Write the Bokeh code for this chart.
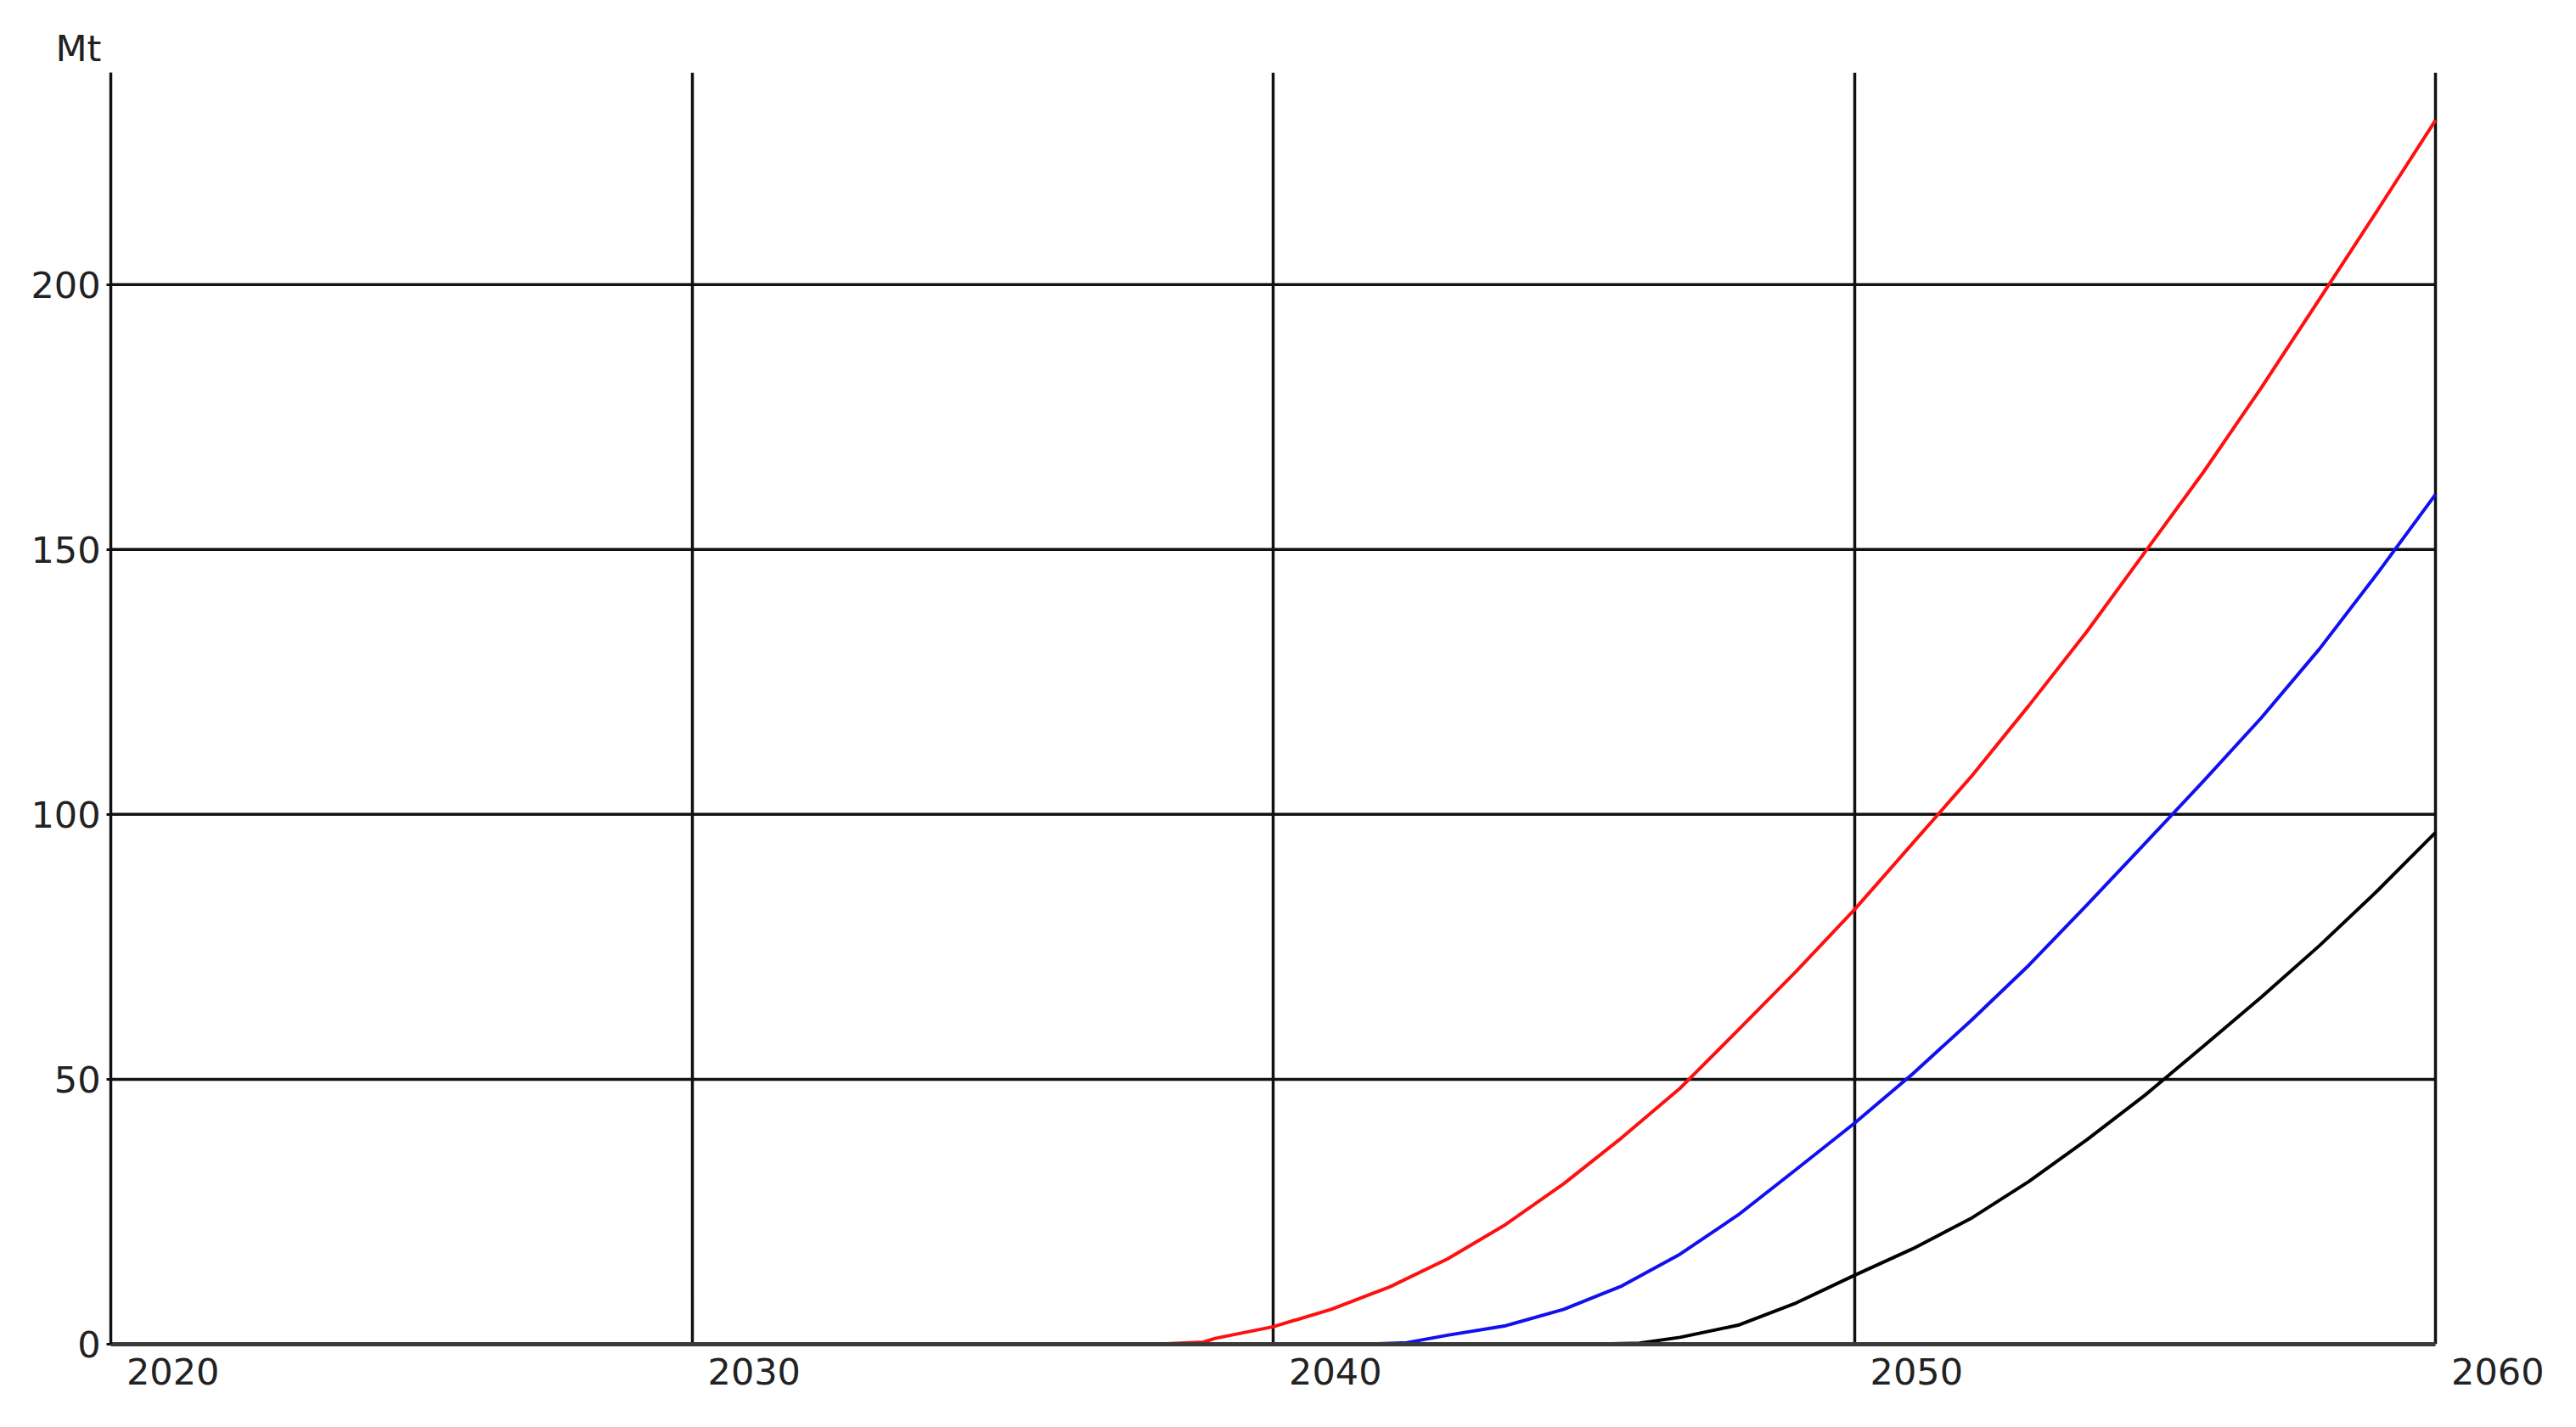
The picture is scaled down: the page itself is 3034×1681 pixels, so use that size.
from bokeh.plotting import figure
from bokeh.models import Range1d, FixedTicker, LinearAxis, Grid, Title
from bokeh.embed import file_html
from bokeh.resources import INLINE

# ---------------- data ----------------
x_ticks = [2020, 2030, 2040, 2050, 2060]
x_tick_labels = ["2020", "2030", "2040", "2050", "2060"]
y_ticks = [0, 50, 100, 150, 200]
y_unit = "Mt"

red_years = [2038.0, 2038.8, 2039, 2040, 2041, 2042, 2043, 2044, 2045, 2046, 2047, 2048,
             2049, 2050, 2051, 2052, 2053, 2054, 2055, 2056, 2057, 2058, 2059, 2060]
red_values = [0.0, 0.4, 1.1, 3.3, 6.6, 10.8, 16.1, 22.6, 30.3, 39.0, 48.3, 59.3,
              70.4, 82.0, 94.5, 107.0, 120.5, 134.5, 149.5, 164.5, 180.5, 197.2, 214.0, 231.0]

blue_years = [2041.6, 2042.3, 2043, 2044, 2045, 2046, 2047, 2048, 2049, 2050, 2051,
              2052, 2053, 2054, 2055, 2056, 2057, 2058, 2059, 2060]
blue_values = [0.0, 0.3, 1.7, 3.5, 6.6, 11.0, 17.0, 24.4, 33.0, 41.7, 51.0,
               61.0, 71.5, 82.9, 94.5, 106.2, 118.2, 131.2, 145.5, 160.4]

black_years = [2045.5, 2046.3, 2047, 2048, 2049, 2050, 2051, 2052, 2053, 2054, 2055,
               2056, 2057, 2058, 2059, 2060]
black_values = [0.0, 0.2, 1.3, 3.6, 7.8, 13.0, 18.0, 23.7, 30.7, 38.6, 47.0,
                56.2, 65.5, 75.2, 85.6, 96.6]

FONT = "DejaVu Sans"
TEXT_COLOR = "#222222"
GRID_COLOR = "#111111"
FONT_SIZE = "43px"

x_start, x_end = x_ticks[0], x_ticks[-1]
label_shift = 1.07          # years: centre of each label sits just right of its tick
x_view_end = x_end + 2      # room on the right for the last tick label

p = figure(width=3024, height=1670, output_backend="svg", toolbar_location=None,
           x_range=Range1d(x_start, x_view_end), y_range=Range1d(0, 240),
           min_border_left=130, min_border_right=19, min_border_top=85,
           min_border_bottom=87, x_axis_type=None, y_axis_type=None)
p.outline_line_color = None
p.background_fill_color = "white"
p.border_fill_color = "white"

# unit label above the y axis
p.add_layout(Title(text=y_unit, align="left", offset=-65, standoff=8,
                   text_font=FONT, text_font_size=FONT_SIZE,
                   text_font_style="normal", text_color=TEXT_COLOR), "above")

# left axis
yaxis = LinearAxis(ticker=FixedTicker(ticks=y_ticks))
yaxis.axis_line_color = GRID_COLOR
yaxis.axis_line_width = 3.5
yaxis.major_tick_line_color = GRID_COLOR
yaxis.major_tick_line_width = 3
yaxis.major_tick_out = 5
yaxis.major_tick_in = 0
yaxis.minor_tick_line_color = None
yaxis.major_label_standoff = 7
yaxis.major_label_text_font = FONT
yaxis.major_label_text_font_size = FONT_SIZE
yaxis.major_label_text_color = TEXT_COLOR
p.add_layout(yaxis, "left")

# bottom axis: line spans 2020-2060, labels placed just right of each tick
label_pos = [t + label_shift for t in x_ticks]
xaxis = LinearAxis(ticker=FixedTicker(ticks=label_pos), bounds=(x_start, x_end))
xaxis.axis_line_color = "#3a3a3a"
xaxis.axis_line_width = 5
xaxis.major_tick_line_color = None
xaxis.minor_tick_line_color = None
xaxis.major_label_overrides = {pos: lab for pos, lab in zip(label_pos, x_tick_labels)}
xaxis.major_label_standoff = 10
xaxis.major_label_text_font = FONT
xaxis.major_label_text_font_size = FONT_SIZE
xaxis.major_label_text_color = TEXT_COLOR
p.add_layout(xaxis, "below")

# grid: vertical lines through the full height, horizontal lines 2020-2060 only
p.xgrid.visible = False
p.ygrid.visible = False
vgrid = Grid(dimension=0, ticker=FixedTicker(ticks=x_ticks[1:]),
             grid_line_color=GRID_COLOR, grid_line_width=3.5)
p.add_layout(vgrid)
h_y = y_ticks[1:]
p.segment(x0=[x_start] * len(h_y), x1=[x_end] * len(h_y), y0=h_y, y1=h_y,
          line_color=GRID_COLOR, line_width=3.5, level="underlay")

# curves
p.line(red_years, red_values, line_color="#ff1010", line_width=4)
p.line(blue_years, blue_values, line_color="#1010f0", line_width=4)
p.line(black_years, black_values, line_color="#000000", line_width=4)

open("out.html", "w").write(file_html(p, INLINE))
